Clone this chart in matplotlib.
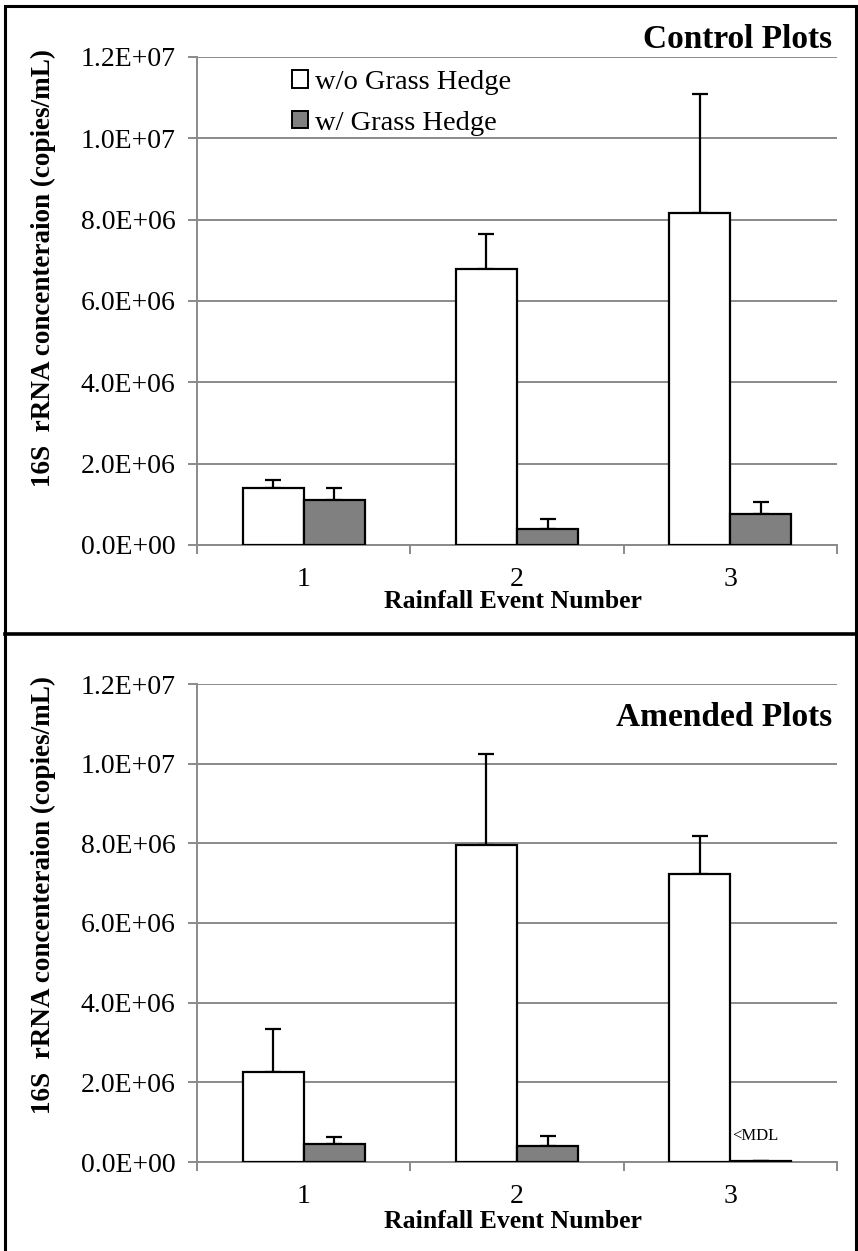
#plot.py
#16S rRNA concentration, control vs amended plots

import numpy as np
import matplotlib
matplotlib.use('Agg')
import matplotlib.pyplot as plt
from matplotlib.patches import Patch, Rectangle
from matplotlib.lines import Line2D

#data
events = ['1', '2', '3']
control_without = [1.40e6, 6.78e6, 8.16e6]
control_without_err = [0.20e6, 0.87e6, 2.92e6]
control_with = [1.10e6, 0.40e6, 0.77e6]
control_with_err = [0.30e6, 0.25e6, 0.29e6]
amended_without = [2.26e6, 7.96e6, 7.22e6]
amended_without_err = [1.09e6, 2.28e6, 0.97e6]
amended_with = [0.46e6, 0.40e6, 0.03e6]
amended_with_err = [0.16e6, 0.26e6, 0.0]
series_labels = ['w/o Grass Hedge', 'w/ Grass Hedge']
panel_titles = ['Control Plots', 'Amended Plots']
y_label = '16S  rRNA concenteraion (copies/mL)'
x_label = 'Rainfall Event Number'

plt.rcParams['font.family'] = ['Liberation Serif', 'DejaVu Serif']

W, H = 858, 1251
fig = plt.figure(figsize=(W / 100, H / 100), dpi=100)
fig.patch.set_facecolor('white')

grid_col = '#8a8a8a'
bar_w = 0.286
tick_fs = 20


def px_box(left, right, top, bottom):
    return [left / W, 1 - bottom / H, (right - left) / W, (bottom - top) / H]


def draw_panel(rect, without, without_err, with_, with_err):
    ax = fig.add_axes(rect)
    x = np.arange(len(events))
    ax.set_axisbelow(True)
    ax.yaxis.grid(True, color=grid_col, lw=1.4)
    ax.bar(x - bar_w / 2, without, bar_w, color='white', edgecolor='black', lw=1.6, zorder=3)
    ax.bar(x + bar_w / 2, with_, bar_w, color='#808080', edgecolor='black', lw=1.6, zorder=3)
    # only the upper half of the error bars is shown
    ax.errorbar(x - bar_w / 2, without, yerr=[np.zeros(3), without_err], fmt='none',
                ecolor='black', elinewidth=1.6, capsize=5.5, capthick=1.6, zorder=2)
    ax.errorbar(x + bar_w / 2, with_, yerr=[np.zeros(3), with_err], fmt='none',
                ecolor='black', elinewidth=1.6, capsize=5.5, capthick=1.6, zorder=2)
    ax.set_xlim(-0.5, 2.5)
    ax.set_ylim(0, 1.2e7)
    ax.set_yticks(np.arange(0, 1.21e7, 2e6))
    ax.set_yticklabels(['%.1E' % v for v in np.arange(0, 1.21e7, 2e6)], fontsize=tick_fs)
    ax.set_xticks(x)
    ax.set_xticklabels(events, fontsize=tick_fs)
    ax.set_xticks([-0.5, 0.5, 1.5, 2.5], minor=True)
    ax.tick_params(axis='x', which='major', length=0, pad=16)
    ax.tick_params(axis='x', which='minor', length=6.5, width=1.4, color=grid_col, direction='out')
    ax.tick_params(axis='y', length=6.5, width=1.4, color=grid_col, pad=9)
    for s in ['top', 'right']:
        ax.spines[s].set_visible(False)
    for s in ['left', 'bottom']:
        ax.spines[s].set_color(grid_col)
        ax.spines[s].set_linewidth(1.4)
    return ax


ax1 = draw_panel(px_box(197, 837, 57, 545), control_without, control_without_err,
                 control_with, control_with_err)
ax2 = draw_panel(px_box(197, 837, 684, 1162), amended_without, amended_without_err,
                 amended_with, amended_with_err)

# legend in top panel
handles = [Patch(facecolor='white', edgecolor='black', lw=1.4),
           Patch(facecolor='#808080', edgecolor='black', lw=1.4)]
ax1.legend(handles, series_labels, loc='upper left', bbox_to_anchor=(292 / W, 1 - 70 / H),
           bbox_transform=fig.transFigure, frameon=False, fontsize=20.5, borderaxespad=0,
           handlelength=0.55, handleheight=0.55, handletextpad=0.25, labelspacing=0.55, borderpad=0)

# below detection limit note
ax2.text(2 + 0.01, 0.45e6, '<MDL', fontsize=12, ha='left', va='bottom')

# titles and axis labels as figure text
fig.text(832 / W, 1 - 40 / H, panel_titles[0], ha='right', va='center', fontsize=24, fontweight='bold')
fig.text(832 / W, 1 - 717 / H, panel_titles[1], ha='right', va='center', fontsize=24, fontweight='bold')
for yl, xl in [(268, 602), (895, 1222)]:
    fig.text(43 / W, 1 - yl / H, y_label, rotation=90, ha='center', va='center',
             fontsize=19.5, fontweight='bold')
    fig.text(513 / W, 1 - xl / H, x_label, ha='center', va='center', fontsize=18.5, fontweight='bold')

# outer frame and divider
fig.add_artist(Rectangle((5 / W, -0.01), 851 / W, 1.01 - 6 / H, transform=fig.transFigure,
                         fill=False, edgecolor='black', lw=2.2))
fig.add_artist(Line2D([5 / W, 856 / W], [1 - 634 / H, 1 - 634 / H], transform=fig.transFigure,
                      color='black', lw=2.6))

fig.savefig('out.png', dpi=100)
